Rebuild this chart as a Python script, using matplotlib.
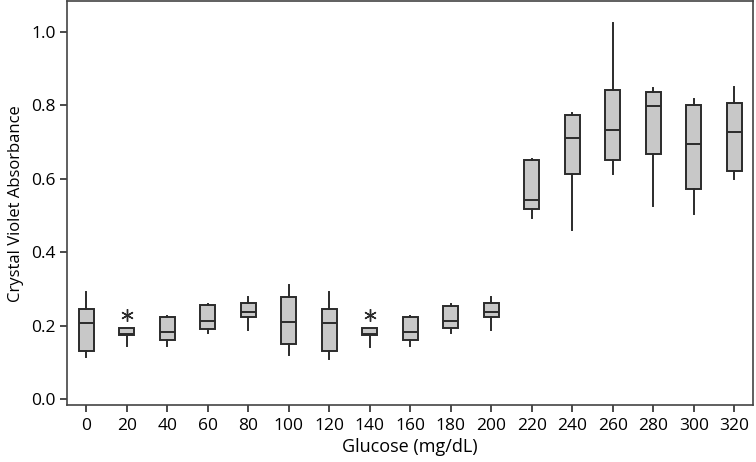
import matplotlib
matplotlib.use("Agg")
import matplotlib.pyplot as plt

glucose = ["0", "20", "40", "60", "80", "100", "120", "140", "160", "180", "200",
           "220", "240", "260", "280", "300", "320"]
whisker_low = [0.114, 0.144, 0.144, 0.179, 0.187, 0.120, 0.108, 0.141, 0.144, 0.179, 0.187,
               0.494, 0.460, 0.612, 0.526, 0.503, 0.599]
q1 = [0.131, 0.173, 0.160, 0.191, 0.223, 0.150, 0.131, 0.173, 0.160, 0.192, 0.222,
      0.518, 0.613, 0.651, 0.667, 0.573, 0.620]
median = [0.206, 0.177, 0.182, 0.2125, 0.238, 0.209, 0.206, 0.177, 0.182, 0.211, 0.238,
          0.542, 0.710, 0.732, 0.798, 0.694, 0.726]
q3 = [0.246, 0.192, 0.223, 0.255, 0.261, 0.277, 0.245, 0.193, 0.223, 0.254, 0.262,
      0.650, 0.775, 0.841, 0.837, 0.802, 0.806]
whisker_high = [0.290, 0.192, 0.227, 0.259, 0.279, 0.310, 0.290, 0.193, 0.227, 0.259, 0.279,
                0.655, 0.778, 1.025, 0.846, 0.818, 0.850]
outliers = [[], [0.229], [], [], [], [], [], [0.229], [], [], [], [], [], [], [], [], []]

plt.rcParams['font.family'] = ['Open Sans', 'DejaVu Sans']

fig = plt.figure(figsize=(7.56, 4.62), dpi=100)
ax = fig.add_axes([0.0882, 0.1223, 0.9078, 0.8745])

stats = []
for i in range(len(glucose)):
    stats.append(dict(whislo=whisker_low[i], q1=q1[i], med=median[i], q3=q3[i],
                      whishi=whisker_high[i], fliers=outliers[i], label=glucose[i]))

edge = "#2b2b2b"
ax.bxp(stats, positions=range(len(glucose)), widths=0.37, patch_artist=True,
       showcaps=False,
       boxprops=dict(facecolor="#c8c8c8", edgecolor=edge, linewidth=1.4),
       medianprops=dict(color=edge, linewidth=1.4),
       whiskerprops=dict(color=edge, linewidth=1.4),
       flierprops=dict(marker=(6, 2, 0), markersize=9, markeredgecolor=edge,
                       markerfacecolor=edge, markeredgewidth=1.0, linestyle="none"))

ax.set_xlim(-0.48, 16.46)
ax.set_ylim(-0.018, 1.083)
ax.set_yticks([0.0, 0.2, 0.4, 0.6, 0.8, 1.0])
ax.set_yticklabels(["0.0", "0.2", "0.4", "0.6", "0.8", "1.0"])
ax.set_xticks(range(len(glucose)))
ax.set_xticklabels(glucose)
ax.tick_params(axis="both", labelsize=12.5, length=5, width=1.2, color=edge, direction="out")
ax.tick_params(axis="x", pad=4)
ax.tick_params(axis="y", pad=3)
for s in ax.spines.values():
    s.set_color("#444444")
    s.set_linewidth(1.2)

ax.set_xlabel("Glucose (mg/dL)", fontsize=13, labelpad=3)
ax.set_ylabel("Crystal Violet Absorbance", fontsize=12, labelpad=5)

fig.savefig("out.png", dpi=100)
